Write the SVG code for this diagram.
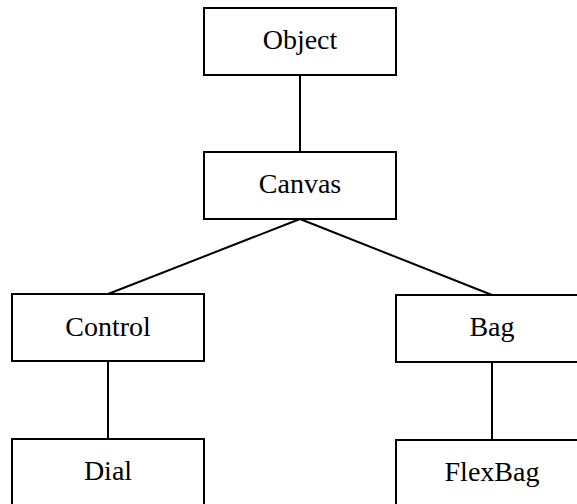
<svg xmlns="http://www.w3.org/2000/svg" width="577" height="504" viewBox="0 0 577 504">
<style>
.box{fill:#fff;stroke:#000;stroke-width:2}
.lbl{font-family:"Liberation Serif","Times New Roman",serif;font-size:28px;fill:#000;text-anchor:middle}
.conn{stroke:#000;stroke-width:2;fill:none}
</style>
<rect width="577" height="504" fill="#fff"/>
<g id="connectors">
<line class="conn" x1="300" y1="75" x2="300" y2="152"/>
<line class="conn" x1="300" y1="219" x2="108" y2="294"/>
<line class="conn" x1="300" y1="219" x2="492" y2="295"/>
<line class="conn" x1="108" y1="361" x2="108" y2="439"/>
<line class="conn" x1="492" y1="362" x2="492" y2="440"/>
</g>
<g id="Object">
<rect class="box" x="204" y="8" width="192" height="67"/>
<text class="lbl" x="300" y="49">Object</text>
</g>
<g id="Canvas">
<rect class="box" x="204" y="152" width="192" height="67"/>
<text class="lbl" x="300" y="193">Canvas</text>
</g>
<g id="Control">
<rect class="box" x="12" y="294" width="192" height="67"/>
<text class="lbl" x="108" y="336">Control</text>
</g>
<g id="Bag">
<rect class="box" x="396" y="295" width="192" height="67"/>
<text class="lbl" x="492" y="336">Bag</text>
</g>
<g id="Dial">
<rect class="box" x="12" y="439" width="192" height="67"/>
<text class="lbl" x="108" y="480">Dial</text>
</g>
<g id="FlexBag">
<rect class="box" x="396" y="440" width="192" height="67"/>
<text class="lbl" x="492" y="481">FlexBag</text>
</g>
</svg>
